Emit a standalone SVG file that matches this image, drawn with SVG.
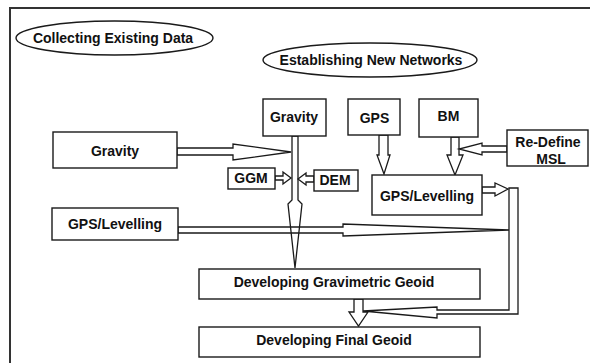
<svg xmlns="http://www.w3.org/2000/svg" width="590" height="363" viewBox="0 0 590 363">
  <style>
    .box { fill: #fff; stroke: #1a1a1a; stroke-width: 1.4; }
    .oval { fill: #fff; stroke: #1a1a1a; stroke-width: 1.4; }
    .frame { fill: none; stroke: #333; stroke-width: 2; }
    .arrow { fill: none; stroke: #1a1a1a; stroke-width: 1.3; stroke-linejoin: miter; }
    .arrowfill { fill: #fff; stroke: #1a1a1a; stroke-width: 1.3; stroke-linejoin: miter; }
    text { font-family: "Liberation Sans", Arial, sans-serif; font-weight: bold; font-size: 14px; fill: #111; text-anchor: middle; }
  </style>
  <rect width="590" height="363" fill="#fff"/>
  <rect class="frame" x="10" y="8" width="600" height="400"/>

  <g id="collecting">
    <ellipse class="oval" cx="114.5" cy="38" rx="98.5" ry="17"/>
    <text x="113" y="43">Collecting Existing Data</text>
  </g>
  <g id="establishing">
    <ellipse class="oval" cx="370" cy="60" rx="107" ry="17"/>
    <text x="371" y="65">Establishing New Networks</text>
  </g>

  <g id="connectors">
    <!-- gravity (new) down to gravimetric geoid -->
    <polygon class="arrow" points="292,136 292,200 288,204 295,268 302,204 298,200 298,136"/>
    <!-- gravity (existing) into main trunk -->
    <polygon class="arrowfill" points="177,148 233,148 233,144 291,152 233,160 233,155 177,155"/>
    <!-- GGM -->
    <polygon class="arrowfill" points="275,176 283,176 283,172 291,178 283,184 283,180 275,180"/>
    <!-- DEM -->
    <polygon class="arrowfill" points="314,176 306,176 306,173 298,179 306,185 306,182 314,182"/>
    <!-- GPS down -->
    <polygon class="arrowfill" points="379,135 379,155 377,155 384,174 390,155 388,155 388,135"/>
    <!-- BM down -->
    <polygon class="arrowfill" points="451,137 451,155 447,155 455,175 463,155 459,155 459,137"/>
    <!-- Re-define MSL into BM -->
    <polygon class="arrowfill" points="507,146 482,146 482,143 459,149 482,155 482,152 507,152"/>
    <!-- GPS/Levelling (new) out to right -->
    <polygon class="arrowfill" points="482,187 495,187 495,183 508,189 495,196 495,193 482,193"/>
    <!-- feedback loop into final geoid -->
    <polygon class="arrow" points="509,188 518,188 518,314 437,314 437,318 363,311 437,307 437,310 509,310"/>
    <!-- GPS/Levelling (existing) across -->
    <polygon class="arrow" points="178,227 343,227 343,224 509,230 343,236 343,233 178,233"/>
    <!-- gravimetric geoid to final geoid -->
    <polygon class="arrowfill" points="354,299 354,312 349,312 358.5,326 368,312 363,312 363,299"/>
  </g>

  <g id="gravity-new">
    <rect class="box" x="263" y="99" width="63" height="37"/>
    <text x="294" y="122">Gravity</text>
  </g>
  <g id="gps-new">
    <rect class="box" x="348" y="99" width="52" height="36"/>
    <text x="374.5" y="123">GPS</text>
  </g>
  <g id="bm">
    <rect class="box" x="419" y="99" width="59" height="38"/>
    <text x="448.5" y="121">BM</text>
  </g>
  <g id="redefine-msl">
    <rect class="box" x="507" y="130" width="81" height="36"/>
    <text x="548" y="147">Re-Define</text>
    <text x="551" y="164">MSL</text>
  </g>
  <g id="gps-levelling-new">
    <rect class="box" x="372" y="175" width="110" height="40"/>
    <text x="427" y="201">GPS/Levelling</text>
  </g>
  <g id="ggm">
    <rect class="box" x="228" y="168" width="47" height="21"/>
    <text x="251" y="183">GGM</text>
  </g>
  <g id="dem">
    <rect class="box" x="314" y="170" width="44" height="21"/>
    <text x="335" y="185">DEM</text>
  </g>
  <g id="gravity-existing">
    <rect class="box" x="53" y="132" width="124" height="36"/>
    <text x="115" y="156">Gravity</text>
  </g>
  <g id="gps-levelling-existing">
    <rect class="box" x="52" y="208" width="126" height="32"/>
    <text x="115" y="229">GPS/Levelling</text>
  </g>
  <g id="gravimetric-geoid">
    <rect class="box" x="199" y="269" width="281" height="30"/>
    <text x="334" y="287">Developing Gravimetric Geoid</text>
  </g>
  <g id="final-geoid">
    <rect class="box" x="199" y="327" width="281" height="30"/>
    <text x="334" y="345">Developing Final Geoid</text>
  </g>
</svg>
